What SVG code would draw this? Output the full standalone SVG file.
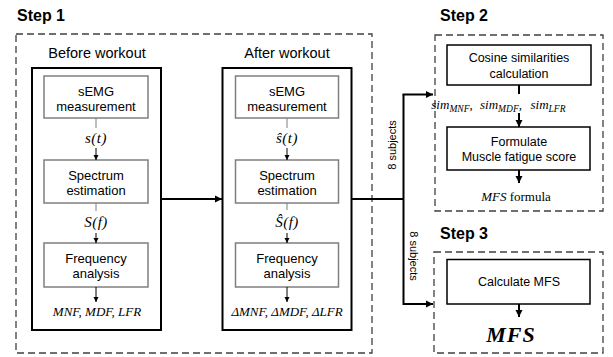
<svg xmlns="http://www.w3.org/2000/svg" width="613" height="357" viewBox="0 0 613 357">
<style>
.step{font-family:"Liberation Sans",Arial,sans-serif;font-weight:bold;font-size:16px;fill:#000}
.hd{font-family:"Liberation Sans",Arial,sans-serif;font-size:14.5px;fill:#000;text-anchor:middle}
.t{font-family:"Liberation Sans",Arial,sans-serif;font-size:13px;fill:#000;text-anchor:middle}
.t2{font-family:"Liberation Sans",Arial,sans-serif;font-size:12.5px;fill:#000;text-anchor:middle}
.sm{font-family:"Liberation Sans",Arial,sans-serif;font-size:11px;fill:#000;text-anchor:middle}
.m{font-family:"Liberation Serif","Times New Roman",serif;font-style:italic;font-size:13px;fill:#000;text-anchor:middle}
.mb{font-size:15px;letter-spacing:0.5px}
.dash{fill:none;stroke:#404040;stroke-width:1.3;stroke-dasharray:7 4}
.outer{fill:none;stroke:#000;stroke-width:2}
.gbox{fill:#fff;stroke:#7f7f7f;stroke-width:1.5}
.bbox{fill:#fff;stroke:#000;stroke-width:1.5}
.thin{stroke:#000;stroke-width:1;fill:none}
.thing{stroke:#7f7f7f;stroke-width:1;fill:none}
.thick{stroke:#000;stroke-width:2;fill:none}
</style>
<defs>
<marker id="ah" markerWidth="6" markerHeight="6" refX="5" refY="3" orient="auto" markerUnits="userSpaceOnUse"><path d="M0,0.5 L5,3 L0,5.5 Z" fill="#000"/></marker>
<marker id="ahb" markerWidth="8" markerHeight="8" refX="7" refY="4" orient="auto" markerUnits="userSpaceOnUse"><path d="M0,0.5 L7,4 L0,7.5 Z" fill="#000"/></marker>
</defs>

<g id="step1">
<text class="step" x="17" y="21">Step 1</text>
<rect class="dash" x="16" y="34" width="356" height="319"/>
</g>
<g id="before">
<text class="hd" x="97" y="58">Before workout</text>
<rect class="outer" x="32" y="68" width="129" height="262"/>
</g>
<g id="after">
<text class="hd" x="287" y="58">After workout</text>
<rect class="outer" x="222.5" y="68" width="129" height="262"/>
</g>

<g id="b-semg"><rect class="gbox" x="44" y="76" width="104" height="42"/><text class="t" x="96" y="95.5">sEMG</text><text class="t" x="96" y="110.5">measurement</text></g>
<g id="b-spec"><rect class="gbox" x="44" y="160" width="104" height="43"/><text class="t" x="96" y="179.5">Spectrum</text><text class="t" x="96" y="194.5">estimation</text></g>
<g id="b-freq"><rect class="gbox" x="44" y="243" width="104" height="44"/><text class="t" x="96" y="262.5">Frequency</text><text class="t" x="96" y="278">analysis</text></g>

<g id="a-semg"><rect class="gbox" x="235.5" y="76" width="103" height="42"/><text class="t" x="287" y="95.5">sEMG</text><text class="t" x="287" y="110.5">measurement</text></g>
<g id="a-spec"><rect class="gbox" x="235.5" y="160" width="103" height="43"/><text class="t" x="287" y="179.5">Spectrum</text><text class="t" x="287" y="194.5">estimation</text></g>
<g id="a-freq"><rect class="gbox" x="235.5" y="243" width="103" height="44"/><text class="t" x="287" y="262.5">Frequency</text><text class="t" x="287" y="278">analysis</text></g>

<g id="step2">
<text class="step" x="440" y="21">Step 2</text>
<rect class="dash" x="435" y="35" width="168" height="176"/>
</g>
<g id="cosine"><rect class="bbox" x="447" y="45" width="144" height="40"/><text class="t2" x="519" y="61.5">Cosine similarities</text><text class="t2" x="519" y="77.5">calculation</text></g>
<g id="formulate"><rect class="bbox" x="447" y="127" width="143" height="43"/><text class="t2" x="519" y="145.5">Formulate</text><text class="t2" x="519" y="161">Muscle fatigue score</text></g>

<g id="step3">
<text class="step" x="440" y="239">Step 3</text>
<rect class="dash" x="434" y="252" width="169" height="101"/>
</g>
<g id="calc"><rect class="bbox" x="447" y="259.5" width="143" height="44.5"/><text class="t2" x="519" y="286">Calculate MFS</text></g>

<g id="labels">
<text class="m mb" x="96" y="143">s(t)</text>
<text class="m mb" x="96" y="227">S(f)</text>
<text class="m" x="97" y="316">MNF, MDF, LFR</text>
<text class="m mb" x="287" y="143">ŝ(t)</text>
<text class="m mb" x="287" y="227">Ŝ(f)</text>
<text class="m" x="287" y="316">ΔMNF, ΔMDF, ΔLFR</text>
<text class="m" x="452" y="109" text-anchor="start">sim<tspan font-size="9.5" dy="2.5">MNF</tspan><tspan dy="-2.5">,</tspan></text>
<text class="m" x="501" y="109" text-anchor="start">sim<tspan font-size="9.5" dy="2.5">MDF</tspan><tspan dy="-2.5">,</tspan></text>
<text class="m" x="548" y="109" text-anchor="start">sim<tspan font-size="9.5" dy="2.5">LFR</tspan></text>
<text class="m" x="516" y="201"><tspan>MFS</tspan><tspan font-style="normal"> formula</tspan></text>
<text class="m" x="511" y="342" style="font-weight:bold;font-size:22px;letter-spacing:1px">MFS</text>
<text class="sm" transform="translate(396,145) rotate(-90)">8 subjects</text>
<text class="sm" transform="translate(410,256) rotate(90)">8 subjects</text>
</g>

<g id="connectors">
<line class="thing" x1="96" y1="118" x2="96" y2="128"/>
<line class="thin" x1="96" y1="148" x2="96" y2="160" marker-end="url(#ah)"/>
<line class="thing" x1="96" y1="203" x2="96" y2="211"/>
<line class="thin" x1="96" y1="233" x2="96" y2="243" marker-end="url(#ah)"/>
<line class="thin" x1="96" y1="287" x2="96" y2="302" marker-end="url(#ah)"/>
<line class="thing" x1="287" y1="118" x2="287" y2="128"/>
<line class="thin" x1="287" y1="148" x2="287" y2="160" marker-end="url(#ah)"/>
<line class="thing" x1="287" y1="203" x2="287" y2="210"/>
<line class="thin" x1="287" y1="233" x2="287" y2="243" marker-end="url(#ah)"/>
<line class="thin" x1="287" y1="287" x2="287" y2="302" marker-end="url(#ah)"/>
<line class="thick" x1="161" y1="199" x2="222" y2="199" marker-end="url(#ahb)"/>
<polyline class="thick" points="351.5,199 403.5,199"/>
<polyline class="thick" points="403.5,94.5 403.5,304 433,304" marker-end="url(#ahb)"/>
<line class="thick" x1="402.5" y1="94.5" x2="433" y2="94.5" marker-end="url(#ahb)"/>
<line class="thick" x1="519" y1="85" x2="519" y2="94"/>
<line class="thick" x1="519" y1="113" x2="519" y2="127" marker-end="url(#ahb)"/>
<line class="thick" x1="519" y1="170" x2="519" y2="183" marker-end="url(#ahb)"/>
<line class="thick" x1="519" y1="304" x2="519" y2="317" marker-end="url(#ahb)"/>
</g>
</svg>
